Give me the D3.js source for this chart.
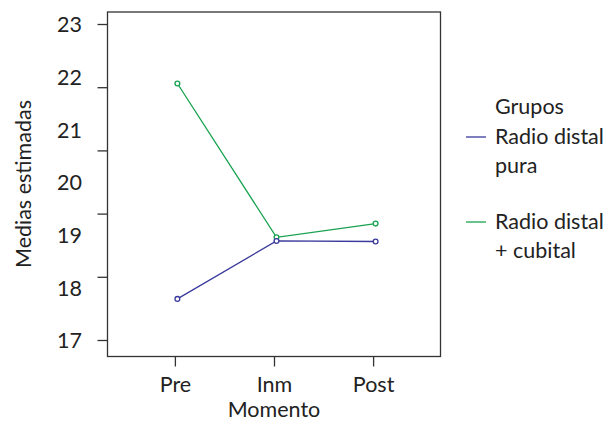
<!DOCTYPE html>
<html><head><meta charset="utf-8">
<script src="https://cdn.jsdelivr.net/npm/d3@7"></script>
<style>
html,body{margin:0;padding:0;background:#fff;}
text{font-family:Lato,"Open Sans",sans-serif;fill:#222;}
</style></head>
<body>
<svg id="chart" width="614" height="422"></svg>
<script>
const categories = ["Pre", "Inm", "Post"];
const seriesNames = ["Radio distal pura", "Radio distal + cubital"];
const valuesPura = [17.79, 18.89, 18.88];
const valuesCubital = [21.88, 18.96, 19.22];
const yTickLabels = [17, 18, 19, 20, 21, 22, 23];
const yTickMarks = [17, 18.2, 19.4, 20.6, 21.8, 23];
const legendLines = [["Radio distal", "pura"], ["Radio distal", "+ cubital"]];
const colors = ["#3a3a9c", "#17a24f"];

const svg = d3.select("#chart");
const L = 107.5, R = 440.5, T = 12, B = 356.5;
const fs = 21.5;

const x = d3.scalePoint().domain(categories).range([L, R]).padding(0.68);
const y = d3.scaleLinear().domain([17, 23]).range([340.5, 24.5]);

// frame
svg.append("rect").attr("x", L).attr("y", T).attr("width", R - L).attr("height", B - T)
  .attr("fill", "none").attr("stroke", "#333").attr("stroke-width", 1.3);

// y tick marks
svg.append("g").selectAll("line").data(yTickMarks).join("line")
  .attr("x1", L - 10).attr("x2", L).attr("y1", d => y(d)).attr("y2", d => y(d))
  .attr("stroke", "#333").attr("stroke-width", 1.3);

// y labels
svg.append("g").selectAll("text").data(yTickLabels).join("text")
  .attr("x", 82).attr("y", d => y(d)).attr("dy", "0.36em")
  .attr("text-anchor", "end").attr("font-size", fs).text(d => d);

// x axis
const xAxis = d3.axisBottom(x).tickSize(10);
const gx = svg.append("g").attr("transform", `translate(0,${B})`).call(xAxis);
gx.select(".domain").remove();
gx.selectAll(".tick line").attr("stroke", "#333").attr("stroke-width", 1.3);
gx.selectAll(".tick text").attr("y", 35).attr("dy", 0).attr("font-size", fs)
  .attr("font-family", "Lato").attr("fill", "#222");

// axis titles
svg.append("text").attr("x", 274).attr("y", 417.3).attr("text-anchor", "middle")
  .attr("font-size", fs).text("Momento");
svg.append("text").attr("transform", "translate(31,184) rotate(-90)")
  .attr("text-anchor", "middle").attr("font-size", fs).text("Medias estimadas");

// series
const series = [valuesPura, valuesCubital];
const line = d3.line().x((d, i) => x(categories[i])).y(d => y(d));
const gData = svg.append("g").attr("transform", "translate(2.5,0)");
[1, 0].forEach(si => {
  gData.append("path").datum(series[si]).attr("d", line)
    .attr("fill", "none").attr("stroke", colors[si]).attr("stroke-width", 1.3);
});
[1, 0].forEach(si => {
  gData.append("g").selectAll("circle").data(series[si]).join("circle")
    .attr("cx", (d, i) => x(categories[i])).attr("cy", d => y(d)).attr("r", 2.4)
    .attr("fill", "#fff").attr("stroke", colors[si]).attr("stroke-width", 1.3);
});

// legend
const lg = svg.append("g");
lg.append("text").attr("x", 495).attr("y", 114).attr("font-size", fs).text("Grupos");
const legendY = [144, 229];
legendLines.forEach((lines, i) => {
  lg.append("line").attr("x1", 466).attr("x2", 486)
    .attr("y1", legendY[i] - 7).attr("y2", legendY[i] - 7)
    .attr("stroke", colors[i]).attr("stroke-width", 1.3);
  lines.forEach((t, j) => {
    lg.append("text").attr("x", 495).attr("y", legendY[i] + j * 28.5)
      .attr("font-size", fs).text(t);
  });
});
</script>
</body></html>
